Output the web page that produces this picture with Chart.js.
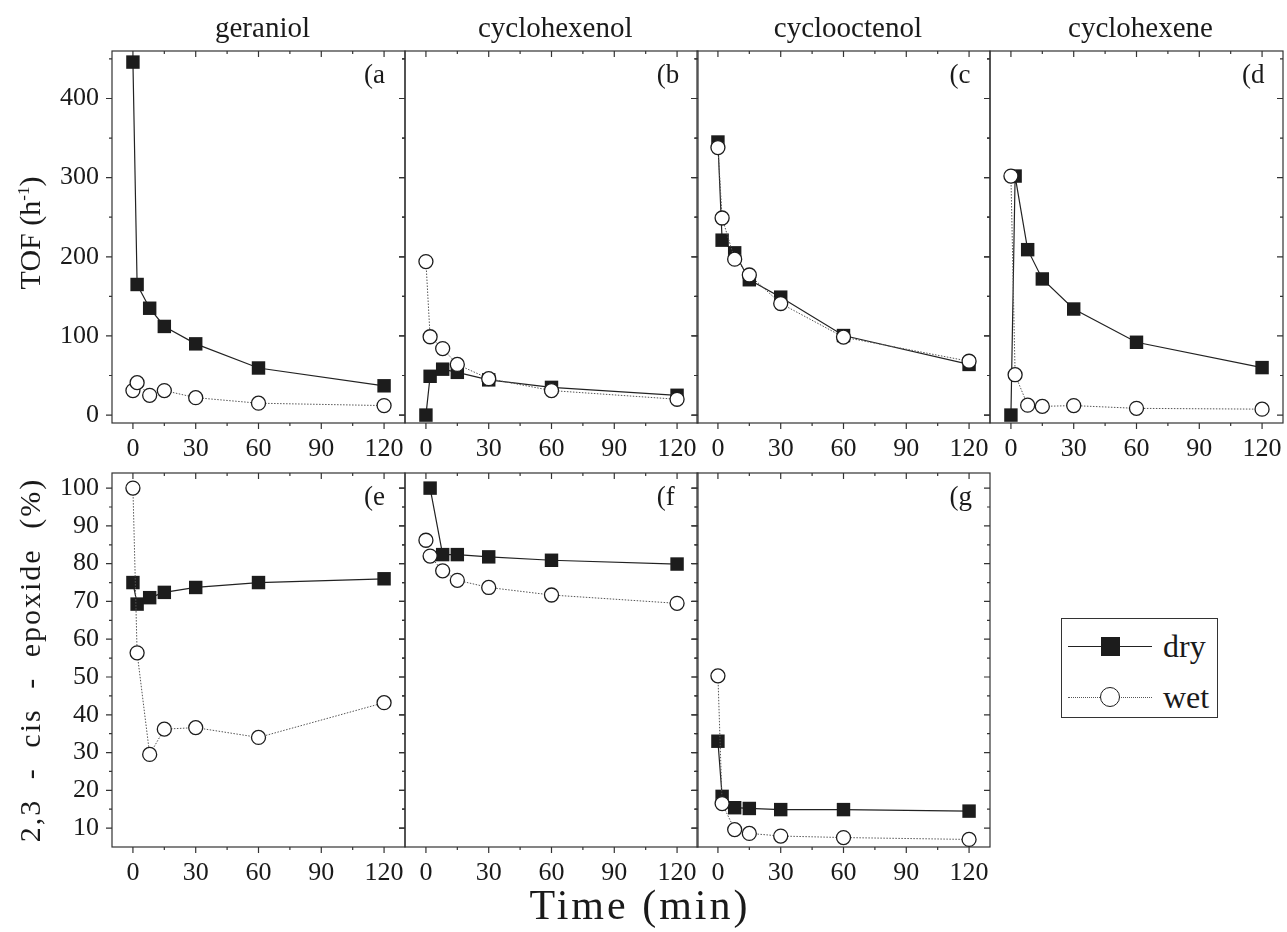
<!DOCTYPE html>
<html lang="en">
<head>
<meta charset="UTF-8">
<title>TOF and epoxide selectivity</title>
<style>
  body {
    margin: 0;
    width: 1287px;
    height: 932px;
    position: relative;
    background: #fff;
    font-family: "Liberation Serif", "DejaVu Serif", serif;
    color: #1a1a1a;
    overflow: hidden;
  }
  .panel { position: absolute; }
  .coltitle {
    position: absolute;
    top: 13px;
    font-size: 29px;
    line-height: 1;
    transform: translateX(-50%);
    white-space: nowrap;
  }
  .tag {
    position: absolute;
    font-size: 27px;
    line-height: 1;
  }
  .ytitle {
    position: absolute;
    font-size: 30px;
    white-space: nowrap;
    transform: translate(-50%, -50%) rotate(-90deg);
  }
  .ytitle sup { font-size: 17px; }
  .xtitle {
    position: absolute;
    left: 640px;
    top: 905px;
    font-size: 42px;
    letter-spacing: 3px;
    white-space: nowrap;
    transform: translate(-50%, -50%);
  }
  .legend {
    position: absolute;
    left: 1061px;
    top: 618px;
    width: 155px;
    height: 98px;
    border: 1px solid #333;
  }
  .lrow { position: absolute; left: 0; width: 100%; height: 40px; }
  .lline { position: absolute; left: 6px; width: 84px; top: 20px; border-top: 1px solid #222; }
  .lline.dot { border-top: 1px dotted #555; }
  .lsq { position: absolute; left: 39px; top: 11px; width: 19px; height: 19px; background: #1c1c1c; }
  .lcirc { position: absolute; left: 38px; top: 10px; width: 18px; height: 18px; border: 1.5px solid #1c1c1c; border-radius: 50%; background: #fff; }
  .ltext { position: absolute; left: 101px; top: 0; font-size: 32px; line-height: 40px; }
</style>
</head>
<body>

<script src="https://cdn.jsdelivr.net/npm/chart.js"></script>
<script>
  // sampling times (min)
  const times = [0, 2, 8, 15, 30, 60, 120];

  const columnTitles = ['geraniol', 'cyclohexenol', 'cyclooctenol', 'cyclohexene'];
  const panelTags = ['(a', '(b', '(c', '(d', '(e', '(f', '(g'];

  // TOF (h-1)
  const tofDryA = [446, 165, 135, 112, 90, 59.5, 37];
  const tofWetA = [31, 41, 25, 31, 22, 15, 12];
  const tofDryB = [0, 49, 58, 54, 44.5, 35, 25];
  const tofWetB = [194, 99, 84, 64, 46, 31, 20];
  const tofDryC = [345, 221, 205, 171, 149, 100.5, 64];
  const tofWetC = [338, 249, 197, 177, 141, 98.5, 68];
  const tofDryD = [0, 302, 209, 172, 134, 92, 60];
  const tofWetD = [302, 51, 12.5, 11, 12, 8.5, 7.5];

  // 2,3 - cis - epoxide (%)
  const epoDryE = [75, 69.3, 71, 72.4, 73.7, 75, 76];
  const epoWetE = [100, 56.4, 29.5, 36.2, 36.6, 34, 43.2];
  const epoDryF = [null, 100, 82.4, 82.4, 81.8, 80.9, 79.9];
  const epoWetF = [86.2, 82, 78.1, 75.6, 73.7, 71.7, 69.5];
  const epoDryG = [33, 18.4, 15.4, 15.2, 14.9, 14.9, 14.5];
  const epoWetG = [50.3, 16.5, 9.6, 8.6, 7.9, 7.5, 7];

  // tick values
  const xMajor = [0, 30, 60, 90, 120];
  const xMinor = [15, 45, 75, 105];
  const tofMajor = [0, 100, 200, 300, 400];
  const tofMinor = [50, 150, 250, 350, 450];
  const epoMajor = [10, 20, 30, 40, 50, 60, 70, 80, 90, 100];
  const epoMinor = [15, 25, 35, 45, 55, 65, 75, 85, 95];

  const colLefts = [112, 404.7, 697.4, 990];
  const plotW = 293;
  const rows = [
    { top: 51, h: 372, min: -10, max: 460, major: tofMajor, minor: tofMinor },
    { top: 473, h: 374, min: 5, max: 104, major: epoMajor, minor: epoMinor }
  ];
  const AXW = 70, AXH = 50, PADT = 10, PADR = 10;
  const tickFont = { family: 'Liberation Serif', size: 26 };

  function toPoints(vals) {
    const pts = [];
    vals.forEach((v, i) => { if (v !== null) pts.push({ x: times[i], y: v }); });
    return pts;
  }

  // panel frame + ticks (left/bottom outward, top/right inward)
  const framePlugin = {
    id: 'frame',
    beforeDatasetsDraw(chart, args, opts) {
      const { ctx, chartArea: a, scales } = chart;
      const xs = scales.x, ys = scales.y;
      ctx.save();
      ctx.strokeStyle = '#333';
      ctx.lineWidth = 1.2;
      ctx.strokeRect(a.left, a.top, a.right - a.left, a.bottom - a.top);
      ctx.beginPath();
      const markX = (vals, len) => {
        vals.forEach(v => {
          const px = xs.getPixelForValue(v);
          ctx.moveTo(px, a.bottom); ctx.lineTo(px, a.bottom + len);
          ctx.moveTo(px, a.top); ctx.lineTo(px, a.top + len);
        });
      };
      const markY = (vals, len) => {
        vals.forEach(v => {
          const py = ys.getPixelForValue(v);
          ctx.moveTo(a.left, py); ctx.lineTo(a.left - len, py);
          ctx.moveTo(a.right, py); ctx.lineTo(a.right - len, py);
        });
      };
      markX(xMajor, 6); markX(xMinor, 3);
      markY(opts.major, 6); markY(opts.minor, 3);
      ctx.stroke();
      ctx.restore();
    }
  };

  function makePanel(row, col, dry, wet, showY) {
    const r = rows[row];
    const wrap = document.createElement('div');
    wrap.className = 'panel';
    wrap.style.left = (colLefts[col] - AXW) + 'px';
    wrap.style.top = (r.top - PADT) + 'px';
    const cv = document.createElement('canvas');
    const w = AXW + plotW + PADR, h = PADT + r.h + AXH;
    cv.width = w; cv.height = h;
    cv.style.width = w + 'px'; cv.style.height = h + 'px';
    wrap.appendChild(cv);
    document.body.appendChild(wrap);

    new Chart(cv.getContext('2d'), {
      type: 'line',
      data: {
        datasets: [{
          label: 'dry',
          data: toPoints(dry),
          order: 2,
          borderColor: '#222',
          borderWidth: 1.2,
          pointStyle: 'rect',
          pointRadius: 9.5,
          pointBackgroundColor: '#1c1c1c',
          pointBorderColor: '#1c1c1c',
          pointBorderWidth: 0,
          tension: 0,
          clip: false
        }, {
          label: 'wet',
          data: toPoints(wet),
          order: 1,
          borderColor: '#555',
          borderWidth: 1,
          borderDash: [1.5, 1.5],
          pointStyle: 'circle',
          pointRadius: 7,
          pointBackgroundColor: '#fff',
          pointBorderColor: '#1c1c1c',
          pointBorderWidth: 1.3,
          tension: 0,
          clip: false
        }]
      },
      options: {
        responsive: false,
        animation: false,
        events: [],
        layout: { autoPadding: false, padding: { top: PADT, right: PADR, left: 0, bottom: 0 } },
        plugins: {
          legend: { display: false },
          tooltip: { enabled: false },
          frame: { major: r.major, minor: r.minor }
        },
        scales: {
          x: {
            type: 'linear',
            min: -10,
            max: 130,
            grid: { display: false },
            border: { display: false },
            ticks: { font: tickFont, color: '#1a1a1a', padding: 3, maxRotation: 0, autoSkip: false },
            afterBuildTicks: s => { s.ticks = xMajor.map(v => ({ value: v })); },
            afterFit: s => { s.height = AXH; s.paddingLeft = 0; s.paddingRight = 0; }
          },
          y: {
            type: 'linear',
            min: r.min,
            max: r.max,
            grid: { display: false },
            border: { display: false },
            ticks: { display: showY, font: tickFont, color: '#1a1a1a', padding: 5, autoSkip: false },
            afterBuildTicks: s => { s.ticks = r.major.map(v => ({ value: v })); },
            afterFit: s => { s.width = AXW; s.paddingTop = 0; s.paddingBottom = 0; }
          }
        }
      },
      plugins: [framePlugin]
    });

    const tag = document.createElement('div');
    tag.className = 'tag';
    tag.textContent = panelTags[row * 4 + col];
    tag.style.left = (colLefts[col] + plotW - 41) + 'px';
    tag.style.top = (r.top + 10) + 'px';
    document.body.appendChild(tag);
  }

  makePanel(0, 0, tofDryA, tofWetA, true);
  makePanel(0, 1, tofDryB, tofWetB, false);
  makePanel(0, 2, tofDryC, tofWetC, false);
  makePanel(0, 3, tofDryD, tofWetD, false);
  makePanel(1, 0, epoDryE, epoWetE, true);
  makePanel(1, 1, epoDryF, epoWetF, false);
  makePanel(1, 2, epoDryG, epoWetG, false);

  columnTitles.forEach((t, i) => {
    const d = document.createElement('div');
    d.className = 'coltitle';
    d.textContent = t;
    d.style.left = (colLefts[i] + plotW / 2 + 4) + 'px';
    document.body.appendChild(d);
  });
</script>

<div class="ytitle" style="left:30px; top:233px;">TOF (h<sup>-1</sup>)</div>
<div class="ytitle" style="left:30px; top:660px; letter-spacing:2px; word-spacing:10px;">2,3 - cis - epoxide (%)</div>
<div class="xtitle">Time (min)</div>

<div class="legend">
  <div class="lrow" style="top:7px;">
    <div class="lline"></div>
    <div class="lsq"></div>
    <div class="ltext">dry</div>
  </div>
  <div class="lrow" style="top:58px;">
    <div class="lline dot"></div>
    <div class="lcirc"></div>
    <div class="ltext">wet</div>
  </div>
</div>

</body>
</html>
